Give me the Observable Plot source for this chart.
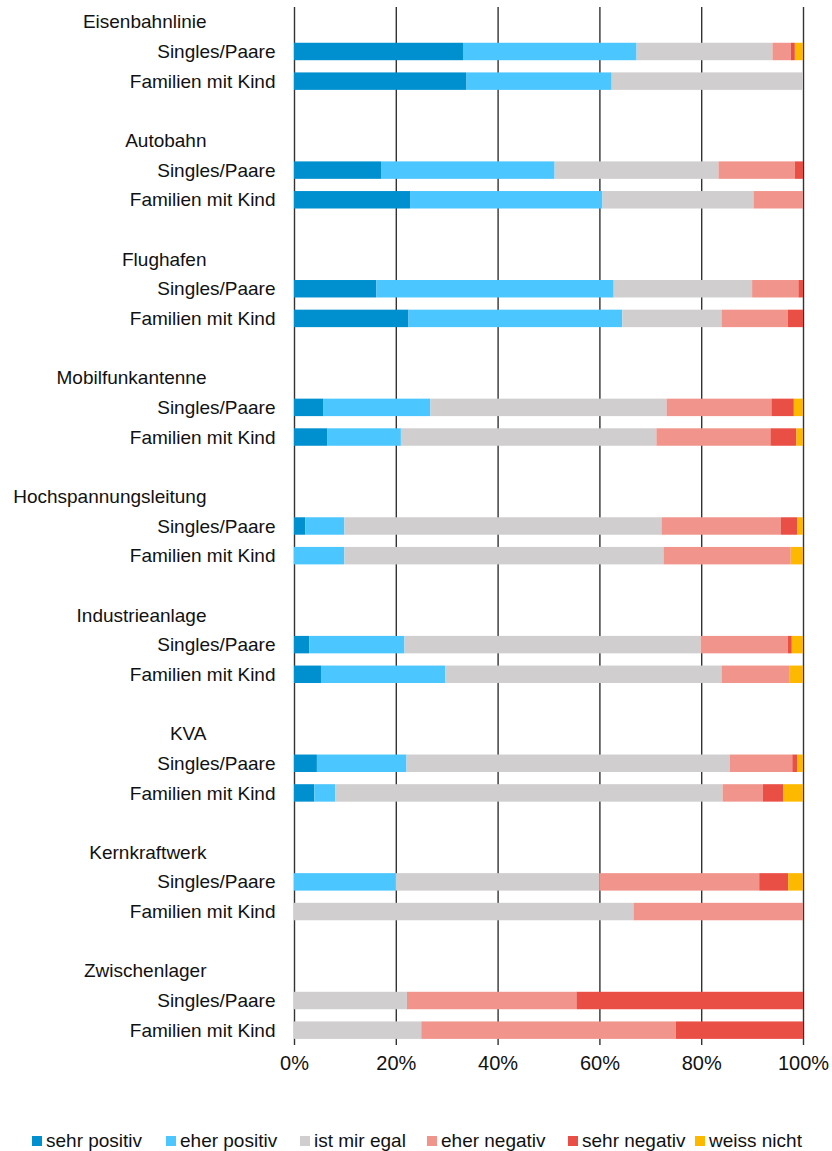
<!DOCTYPE html>
<html>
<head>
<meta charset="utf-8">
<script src="https://cdn.jsdelivr.net/npm/d3@7"></script>
<script src="https://cdn.jsdelivr.net/npm/@observablehq/plot@0.6"></script>
<style>
  html, body { margin: 0; padding: 0; background: #fff; }
  body { width: 832px; font-family: "Liberation Sans", Arial, sans-serif; }
  #legend { position: relative; margin-top: 36px; font-size: 19px; color: #111; height: 22px; width: 832px; }
  #legend .item { position: absolute; top: 0; display: flex; align-items: center; white-space: nowrap; height: 22px; }
  #legend .sw { width: 10px; height: 10px; margin-right: 4px; display: inline-block; }
</style>
</head>
<body>
<div id="chart"></div>
<div id="legend"></div>
<script>
const categories = ["Eisenbahnlinie", "Autobahn", "Flughafen", "Mobilfunkantenne", "Hochspannungsleitung", "Industrieanlage", "KVA", "Kernkraftwerk", "Zwischenlager"];
const groups = ["Singles/Paare", "Familien mit Kind"];
const responses = ["sehr positiv", "eher positiv", "ist mir egal", "eher negativ", "sehr negativ", "weiss nicht"];
const colors = ["#0090CF", "#4BC6FF", "#D0CECE", "#F1958C", "#EA4F45", "#FDB900"];
const xTicks = [0, 20, 40, 60, 80, 100];

// Percent shares per category (order of responses)
const singlesValues = [
  [33.2, 34.1, 26.7, 3.6, 0.8, 1.6],
  [17.1, 34.1, 32.2, 15.0, 1.6, 0],
  [16.2, 46.6, 27.2, 9.1, 0.9, 0],
  [5.8, 21.0, 46.4, 20.6, 4.4, 1.8],
  [2.2, 7.7, 62.3, 23.4, 3.3, 1.1],
  [3.0, 18.7, 58.2, 17.1, 0.8, 2.2],
  [4.5, 17.6, 63.5, 12.3, 1.0, 1.1],
  [0, 20.0, 40.0, 31.4, 5.7, 2.9],
  [0, 0, 22.2, 33.3, 44.5, 0]
];
const familienValues = [
  [33.9, 28.5, 37.6, 0, 0, 0],
  [22.8, 37.8, 29.7, 9.7, 0, 0],
  [22.5, 42.0, 19.5, 13.0, 3.0, 0],
  [6.5, 14.5, 50.2, 22.4, 5.1, 1.3],
  [0, 9.9, 62.7, 25.0, 0, 2.4],
  [5.3, 24.4, 54.3, 13.4, 0, 2.6],
  [4.0, 4.1, 76.1, 7.9, 4.0, 3.9],
  [0, 0, 66.7, 33.3, 0, 0],
  [0, 0, 25.0, 50.0, 25.0, 0]
];

// Build slot domain: title, singles, familien, blank (no trailing blank)
const slots = [];
const titleRows = [];
const subRows = [];
const bars = [];
categories.forEach((cat, i) => {
  const t = `${i}-t`, s = `${i}-s`, f = `${i}-f`;
  slots.push(t, s, f);
  if (i < categories.length - 1) slots.push(`${i}-b`);
  titleRows.push({slot: t, label: cat});
  subRows.push({slot: s, label: groups[0]}, {slot: f, label: groups[1]});
  responses.forEach((r, k) => {
    bars.push({slot: s, response: r, value: singlesValues[i][k]});
    bars.push({slot: f, response: r, value: familienValues[i][k]});
  });
});

const step = 29.65;
const marginTop = 7;
const marginBottom = 49;
const height = Math.round(marginTop + step * slots.length + marginBottom);

const chart = Plot.plot({
  width: 832,
  height,
  marginLeft: 294,
  marginRight: 29,
  marginTop,
  marginBottom,
  style: {fontFamily: '"Liberation Sans", Arial, sans-serif', fontSize: "19px", color: "#111", background: "#fff"},
  x: {domain: [0, 100], label: null},
  y: {type: "band", domain: slots, paddingInner: 0, paddingOuter: 0, align: 0.5, round: false, axis: null},
  color: {domain: responses, range: colors},
  marks: [
    Plot.ruleX(xTicks, {stroke: "#333", strokeWidth: 1.4}),
    Plot.barX(bars, Plot.stackX({x: "value", y: "slot", fill: "response", order: null, insetTop: 6.1, insetBottom: 6.1})),
    Plot.text(titleRows, {y: "slot", text: "label", frameAnchor: "left", textAnchor: "end", dx: -88, fontSize: 19, fill: "#111"}),
    Plot.text(subRows, {y: "slot", text: "label", frameAnchor: "left", textAnchor: "end", dx: -19, fontSize: 19, fill: "#111"}),
    Plot.axisX({ticks: xTicks, tickFormat: d => d + "%", tickSize: 0, tickPadding: 10, fontSize: 20, label: null})
  ]
});
document.getElementById("chart").appendChild(chart);

const legendLeft = [32, 166, 300, 427, 568, 695];
const legend = document.getElementById("legend");
responses.forEach((r, k) => {
  const item = document.createElement("div");
  item.className = "item";
  item.style.left = legendLeft[k] + "px";
  const sw = document.createElement("span");
  sw.className = "sw";
  sw.style.background = colors[k];
  item.appendChild(sw);
  item.appendChild(document.createTextNode(r));
  legend.appendChild(item);
});
</script>
</body>
</html>
